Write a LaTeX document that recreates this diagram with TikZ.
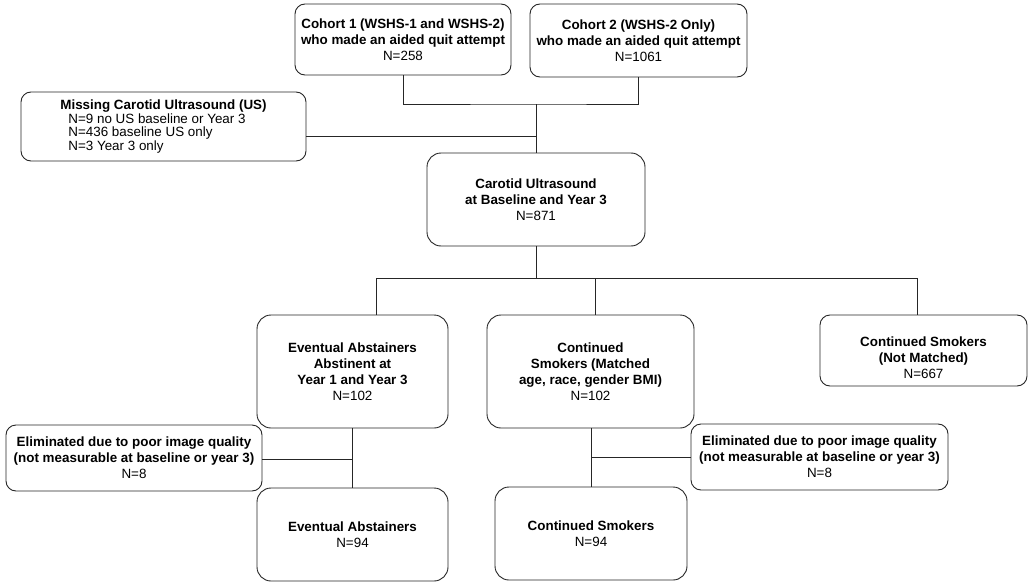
\documentclass[tikz,border=0pt]{standalone}
\usepackage{fontspec}
\setmainfont{Liberation Sans}

\begin{document}
\begin{tikzpicture}[x=1pt,y=-1pt]
    \tikzstyle{box}=[draw=black!85, line width=0.9pt, rounded corners=10pt, align=center, inner sep=0pt, font=\fontsize{13.4}{16}\selectfont]
    \tikzstyle{every node}=[box]
    \tikzstyle{big}=[rounded corners=14pt]
    \tikzstyle{link}=[draw=black!85, line width=0.9pt]

    \useasboundingbox[fill=white] (0,0) rectangle (1031,586);

    \node[minimum width=216, minimum height=71] (cohort1) at (403,39.5)
        {\textbf{Cohort 1 (WSHS-1 and WSHS-2)}\\\textbf{who made an aided quit attempt}\\N=258};
    \node[minimum width=217, minimum height=73] (cohort2) at (638.5,40.5)
        {\textbf{Cohort 2 (WSHS-2 Only)}\\\textbf{who made an aided quit attempt}\\N=1061};
    \node[minimum width=285, minimum height=69, align=left, font=\fontsize{13.4}{13.7}\selectfont] (missing) at (163.5,126.5)
        {\textbf{Missing Carotid Ultrasound (US)}\\\hspace*{8pt}N=9 no US baseline or Year 3\\\hspace*{8pt}N=436 baseline US only\\\hspace*{8pt}N=3 Year 3 only};
    \node[big, minimum width=218, minimum height=93] (ultra) at (536,199.5)
        {\textbf{Carotid Ultrasound}\\\textbf{at Baseline and Year 3}\\N=871};

    \node[big, minimum width=191, minimum height=113] (abst) at (352.5,371.5)
        {\textbf{Eventual Abstainers}\\\textbf{Abstinent at}\\\textbf{Year 1 and Year 3}\\N=102};
    \node[big, minimum width=207, minimum height=113] (smok) at (590.5,371.5)
        {\textbf{Continued}\\\textbf{Smokers (Matched}\\\textbf{age, race, gender BMI)}\\N=102};
    \node[minimum width=207, minimum height=71] (notmatch) at (923.5,350.5)
        {\rule{0pt}{23.5pt}\textbf{Continued Smokers}\\\textbf{(Not Matched)}\\N=667};

    \node[minimum width=256, minimum height=66] (elimA) at (134,458)
        {\textbf{Eliminated due to poor image quality}\\\textbf{(not measurable at baseline or year 3)}\\N=8};
    \node[minimum width=257, minimum height=66] (elimB) at (819.5,457)
        {\textbf{Eliminated due to poor image quality}\\\textbf{(not measurable at baseline or year 3)}\\N=8};
    \node[big, minimum width=191, minimum height=93] (abstfin) at (352.5,534.5)
        {\textbf{Eventual Abstainers}\\N=94};
    \node[big, minimum width=192, minimum height=93] (smokfin) at (591,533.5)
        {\textbf{Continued Smokers}\\N=94};

    \coordinate (top) at (536,104);
    \coordinate (miss) at (536,136);
    \coordinate (split) at (536,278);
    \coordinate (left) at (376,278);
    \coordinate (mid) at (595,278);
    \coordinate (right) at (917,278);
    \coordinate (dropA) at (352.5,459);
    \coordinate (dropB) at (591,457);

    \draw[link] (cohort1.south) |- (top) -| (cohort2.south);
    \draw[link] (top) -- (ultra.north);
    \draw[link] (missing.east |- miss) -- (miss);
    \draw[link] (ultra.south) -- (split);
    \draw[link] (left) -- (right);
    \draw[link] (left) -- (left |- abst.north);
    \draw[link] (mid) -- (mid |- smok.north);
    \draw[link] (right) -- (right |- notmatch.north);
    \draw[link] (abst.south) -- (abstfin.north);
    \draw[link] (elimA.east |- dropA) -- (dropA);
    \draw[link] (smok.south -| dropB) -- (smokfin.north -| dropB);
    \draw[link] (dropB) -- (elimB.west);
\end{tikzpicture}
\end{document}
